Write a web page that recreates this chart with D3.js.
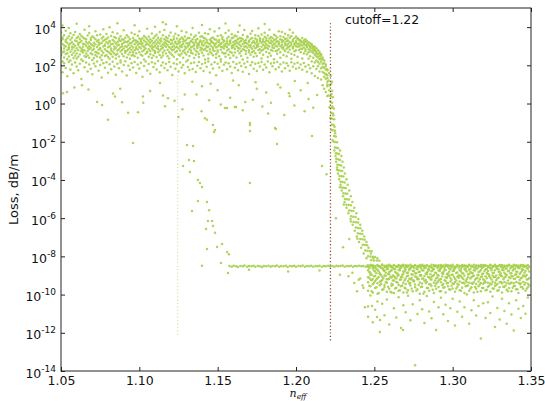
<!DOCTYPE html>
<html>
<head>
<meta charset="utf-8">
<script src="https://cdn.jsdelivr.net/npm/d3@7"></script>
<style>
  body { margin: 0; background: #fff; }
  svg { display: block; }
  text { font-family: "DejaVu Sans", sans-serif; fill: #111; }
</style>
</head>
<body>
<svg id="chart" width="545" height="401"></svg>
<script>
// ---- axis ticks ----
const xTicks = [1.05, 1.10, 1.15, 1.20, 1.25, 1.30, 1.35];
const yTickExponents = [-14, -12, -10, -8, -6, -4, -2, 0, 2, 4];

// ---- reference lines ----
const cutoffIndex = 1.222;
const cutoffSpan = [4e-13, 1.6e4];
const secondaryIndex = 1.1245;
const secondarySpan = [8e-13, 30];

// ---- high-loss modes: [n_eff, losses at that n_eff] ----
const lossyColumns = [
[1.050,[5200,820,1900,340,610,95]],[1.051,[2300,470,1300,2900,160,44,12000]],[1.052,[760,3800,260,1100,530,130]],
[1.053,[1700,390,980,2100,6400,72]],[1.054,[640,2600,1500,210,430,27]],[1.055,[3300,870,290,1200,710,150,9000]],
[1.056,[1400,520,2200,4700,180,61]],[1.057,[930,360,1600,680,2800,110]],[1.058,[450,1250,3900,240,850,38]],
[1.059,[2000,570,1050,320,5600,140]],[1.060,[790,2700,1800,410,230,88,15000]],[1.061,[1150,3100,620,280,1450,56]],
[1.062,[370,880,2400,4300,1600,120]],[1.063,[1900,540,740,200,3400,19]],[1.064,[660,1350,2900,470,950,170]],
[1.065,[2500,310,1250,7300,590,80]],[1.066,[1050,420,1700,2300,270,140]],[1.067,[560,3600,820,1400,330,47]],
[1.068,[1600,250,1000,4900,690,110,11000]],[1.069,[840,2100,430,1300,2700,66]],[1.070,[380,1150,3200,610,190,34]],
[1.071,[2900,720,1500,240,1000,125]],[1.072,[1250,500,2300,6100,350,90]],[1.073,[470,1800,910,290,3700,160]],
[1.074,[2100,650,1150,420,1550,52]],[1.075,[730,4100,260,1350,800,105]],[1.076,[1500,340,2600,560,190,23]],
[1.077,[960,1950,460,3100,7700,130]],[1.078,[310,1200,2200,700,1050,75]],[1.079,[2400,580,1600,350,4400,145]],
[1.080,[880,1400,270,2900,510,41]],[1.081,[1700,440,990,1900,220,115,9800]],[1.082,[600,3400,1250,380,760,62]],
[1.083,[1300,2100,520,5300,280,155]],[1.084,[420,980,1750,690,3000,88]],[1.085,[2700,350,1400,830,230,32]],
[1.086,[1100,4600,600,1600,400,120,16000]],[1.087,[700,2000,290,1200,2500,70]],[1.088,[1850,530,880,3300,180,140]],
[1.089,[390,1300,2300,640,1000,48]],[1.090,[2200,760,1500,300,6800,105]],[1.091,[1000,450,2800,1700,560,165]],
[1.092,[580,1600,940,3800,260,29]],[1.093,[3000,1150,370,700,1900,95]],[1.094,[820,2400,1450,480,220,58]],
[1.095,[1500,330,1050,5100,640,130]],[1.096,[490,2700,1800,860,360,78]],[1.097,[1250,620,2100,300,4200,150,12500]],
[1.098,[2000,900,430,1550,740,40]],[1.099,[670,3500,1200,250,1700,110]],[1.100,[1400,480,2500,920,6000,68]],
[1.101,[360,1750,780,1300,2200,135]],[1.102,[2600,1050,540,320,1450,25]],[1.103,[900,2000,3400,640,200,92]],
[1.104,[1650,400,1150,2900,760,160]],[1.105,[520,1350,2300,470,8200,54]],[1.106,[1200,3100,700,1800,280,118]],
[1.107,[2300,560,960,380,1500,36]],[1.108,[760,1900,4600,1100,240,145]],[1.109,[1450,330,2600,620,870,82]],
[1.110,[440,1050,1700,3300,540,125,10500]],[1.111,[2100,800,1300,270,4000,60]],[1.112,[1000,2800,490,1600,710,170]],
[1.113,[600,1400,2100,350,5600,44]],[1.114,[1800,720,1000,2500,260,98]],[1.115,[330,3700,1250,830,470,140,18000]],
[1.116,[1550,590,2300,7100,1100,72]],[1.117,[950,2000,420,1400,3000,120,14000]],[1.118,[2600,1150,660,300,1800,55]],
[1.119,[500,1650,3500,900,230,150]],[1.120,[1300,420,2200,5200,760,85]],[1.121,[2000,900,1450,350,620,31]],
[1.122,[680,3200,1100,2400,280,130]],[1.123,[1500,480,850,4500,1700,66]],[1.124,[920,2500,560,1250,210,115,11000]],
[1.125,[370,1400,3800,750,1900,48]],[1.126,[2300,1000,600,1600,330,140]],[1.127,[1150,2900,420,6300,880,76]],
[1.128,[560,1750,1300,250,2400,104]],[1.129,[1900,680,3200,980,450,38]],[1.130,[820,2200,1450,370,5400,160]],
[1.131,[1350,510,1000,2700,190,82]],[1.132,[2700,1200,700,310,1550,57]],[1.133,[450,1850,4100,880,600,128]],
[1.134,[1600,960,2300,420,9000,64]],[1.135,[740,3000,1350,240,1100,142]],[1.136,[2100,570,1650,3600,360,45]],
[1.137,[1000,2400,800,500,1300,96]],[1.138,[390,1500,5000,1150,270,150]],[1.139,[1750,860,2000,620,3100,70]],
[1.140,[1200,3300,450,1500,760,118,13000]],[1.141,[640,1900,1100,2800,330,50]],[1.142,[2500,720,1400,200,4700,135]],
[1.143,[890,1650,560,2100,1000,84]],[1.144,[1450,4300,950,380,230,160]],[1.145,[520,2200,1250,7800,700,42]],
[1.146,[1900,1000,430,1600,2600,112]],[1.147,[800,2900,1500,340,620,68]],[1.148,[1300,560,2300,5900,1050,146]],
[1.149,[2200,850,380,1400,250,30]],[1.150,[610,1750,3400,970,480,122]],[1.151,[1600,1150,2100,300,8600,77]],
[1.152,[930,3700,650,1300,210,158]],[1.153,[2400,470,1500,880,3000,52]],[1.154,[1100,2000,760,420,1800,108]],
[1.155,[430,1350,4900,1000,280,140,15500]],[1.156,[1800,920,2500,600,1400,63]],[1.157,[700,3100,1200,360,6600,130]],
[1.158,[1450,510,2000,1700,240,86]],[1.159,[2600,1050,800,4200,450,40]],[1.160,[880,1600,2900,330,1150,150]],
[1.161,[1250,470,1900,720,3600,74]],[1.162,[2000,3300,990,260,1500,118]],[1.163,[580,1400,2400,5500,820,55]],
[1.164,[1700,760,1200,430,2700,138,12000]],[1.165,[1000,2600,540,1850,310,92]],[1.166,[2300,1300,3900,700,200,46]],
[1.167,[660,1800,950,1450,7000,126]],[1.168,[1500,400,2100,1000,560,80]],[1.169,[820,2900,1350,3300,250,152]],
[1.170,[1950,620,1700,480,1100,35]],[1.171,[1150,4500,870,2400,360,102]],[1.172,[490,1500,2700,730,6200,144]],
[1.173,[1650,1000,560,1900,280,67]],[1.174,[2500,790,1400,3800,430,120]],[1.175,[900,2200,1150,310,1700,50]],
[1.176,[1350,3400,640,8800,1000,134]],[1.177,[2100,700,1800,450,2600,88]],[1.178,[580,1500,950,4100,230,148]],
[1.179,[1800,1200,2300,660,360,58]],[1.180,[1050,3100,780,1600,5000,112,14500]],[1.181,[2600,500,1300,2000,850,76]],
[1.182,[740,1900,3600,1100,270,160]],[1.183,[1500,960,2500,430,7300,44]],[1.184,[2000,640,1450,3000,320,124]],
[1.185,[860,2700,1100,570,1700,90]],[1.186,[1300,4000,800,2100,210,138]],[1.187,[2300,1050,560,1550,3500,62]],
[1.188,[600,1800,2900,980,400,150]],[1.189,[1700,1250,700,6000,1350,80]],[1.190,[1000,2300,3300,480,250,114]],
[1.191,[2100,820,1600,1150,5600,48]],[1.192,[700,3000,1900,350,900,142]],[1.193,[1450,560,2400,4500,1200,70]],
[1.194,[2500,1100,740,300,1800,128]],[1.195,[880,2000,3700,1300,480,96]],[1.196,[1600,650,2800,1000,7200,52]],
[1.197,[1150,3300,1500,400,220,146]],[1.198,[2200,760,1900,5100,920,84]],[1.199,[540,1400,2600,1200,350,120]],
[1.200,[1800,1000,3200,620,1500,66]],[1.201,[950,2400,1300,2600,280,138]],[1.202,[1400,640,2100,1000,2200,74]],
[1.203,[2000,1200,480,1700,760,110]],[1.204,[720,1600,2700,1100,230,58]],[1.205,[1300,2000,860,1500,420,132]],
[1.206,[1700,540,1150,2300,700,86]],[1.207,[900,1350,1900,380,1000,46]],[1.208,[1200,700,1600,480,220,104]],
[1.209,[600,1000,1450,860,300,70]],[1.210,[1100,1300,520,760,160,38]],[1.211,[820,440,1000,620,250,90]],
[1.212,[700,950,360,560,140,28]],[1.213,[520,780,300,430,180,64]],[1.214,[620,380,260,150,90,22]],
[1.215,[430,300,520,210,120,48]],[1.216,[330,230,160,380,70,18]],[1.217,[260,120,200,85,45,9]],
[1.218,[180,75,130,40,25,6]],[1.219,[110,60,35,90,20,4]],[1.220,[55,30,22,14,8,2.5]]
];

// ---- isolated lossy points below the main band: [n_eff, loss] ----
const lossyStrays = [
[1.0513,3.5],[1.0538,4],[1.0585,7],[1.0634,9],[1.0675,5.5],[1.073,1.2],[1.0762,0.83],[1.080,0.14],
[1.0832,3.3],[1.0845,2.3],[1.0878,6],[1.089,1.15],[1.0928,0.33],[1.096,0.0087],[1.0991,0.35],[1.1023,2.3],
[1.1025,1.1],[1.1069,4.5],[1.1132,12],[1.1151,2.6],[1.1164,0.72],[1.1183,1.9],
[1.1225,1.4],[1.125,0.2],[1.1275,0.5],[1.129,3],[1.1365,3],[1.140,8],[1.1419,0.17],[1.1432,0.14],
[1.1445,1.5],[1.147,0.076],[1.1477,0.032],[1.1483,0.041],[1.150,5],[1.152,0.9],[1.1547,0.59],[1.156,0.59],
[1.158,2],[1.161,0.66],[1.1617,0.66],[1.1635,9],[1.166,0.45],[1.1706,0.095],[1.1706,0.076],[1.1706,0.036],
[1.1725,1.6],[1.175,6],[1.1785,0.7],[1.181,3.8],[1.184,1.1],[1.1866,0.052],[1.1872,0.047],[1.1879,0.0076],
[1.19,7],[1.1925,0.25],[1.196,2.4],[1.199,0.8],[1.203,5],[1.2055,0.4],[1.208,1.7],[1.2102,0.02],
[1.211,0.6],[1.2135,2.8],[1.2166,0.00054],[1.1338,14],[1.1455,11],[1.1598,16],[1.1742,13],[1.1884,10],
[1.1993,15],[1.2075,12],[1.1397,0.4],[1.1676,1.2],[1.1822,0.3],[1.1955,3.4]
];

// ---- secondary mode falling towards the plateau ----
const fallingBranch = [
[1.1304,0.0068],[1.1343,0.006],[1.1317,0.0011],[1.1349,0.00098],[1.1279,0.00054],[1.1323,0.00026],
[1.1374,1e-4],[1.1387,6.9e-5],[1.140,4.3e-5],[1.1374,7.9e-6],[1.1432,7e-6],[1.1336,2.4e-6],
[1.1445,2.6e-6],[1.1438,7e-7],[1.1464,7e-7],[1.1426,2.7e-7],[1.147,3.9e-7],[1.1483,1.7e-7],
[1.1528,4.5e-8],[1.1496,3.1e-8],[1.1432,2.4e-8],[1.156,1.7e-8],[1.1572,1.3e-8],[1.140,3.2e-9],
[1.1521,4.5e-9],[1.1566,1.35e-9],[1.1706,6.9e-5]
];

// ---- core modes crossing the cutoff ----
const transition = [
[1.2200,63],[1.2212,40],[1.2195,32],[1.2221,28],[1.2208,16],[1.2229,14],[1.2201,10],[1.2216,9],[1.2224,11],
[1.2213,5],[1.2231,4.6],[1.2207,2.6],[1.2222,2.4],[1.2235,2.1],[1.2218,1.3],[1.2230,1.1],
[1.2214,0.63],[1.2228,0.6],[1.2241,0.55],[1.2225,0.32],[1.2236,0.3],[1.2231,0.16],[1.2244,0.15],[1.2219,0.18],
[1.2228,0.08],[1.2240,0.075],[1.2236,0.04],[1.2249,0.038],[1.2226,0.042],[1.2243,0.02],[1.2254,0.019],
[1.2240,0.01],[1.2251,0.0098],[1.2262,0.0093],[1.2248,0.005],[1.2258,0.0048],[1.2268,0.0046],
[1.2254,0.0025],[1.2264,0.0024],[1.2275,0.0023],[1.2257,0.0013],[1.2269,0.0012],[1.2281,0.0011],
[1.2264,6.3e-4],[1.2276,6e-4],[1.2288,5.7e-4],[1.2270,3.2e-4],[1.2283,3e-4],[1.2295,2.9e-4],[1.2262,3.4e-4],
[1.2278,1.6e-4],[1.2290,1.55e-4],[1.2302,1.5e-4],[1.2285,8e-5],[1.2297,7.7e-5],[1.2310,7.4e-5],
[1.2293,4e-5],[1.2306,3.9e-5],[1.2318,3.8e-5],[1.2280,4.2e-5],[1.2302,2e-5],[1.2315,1.95e-5],[1.2327,1.9e-5],
[1.2312,1e-5],[1.2325,9.8e-6],[1.2338,9.5e-6],[1.2322,5e-6],[1.2336,4.9e-6],[1.2350,4.8e-6],[1.2305,5.2e-6],
[1.2338,2.5e-6],[1.2352,2.45e-6],[1.2366,2.4e-6],[1.2352,1.25e-6],[1.2366,1.2e-6],[1.2380,1.15e-6],
[1.2368,6.3e-7],[1.2382,6.1e-7],[1.2396,5.9e-7],[1.2350,6.6e-7],[1.2382,3.2e-7],[1.2396,3.1e-7],[1.2410,3e-7],
[1.2395,1.6e-7],[1.2409,1.55e-7],[1.2423,1.5e-7],[1.2410,8e-8],[1.2424,7.8e-8],[1.2438,7.5e-8],[1.2392,8.3e-8],
[1.2426,4e-8],[1.2440,3.9e-8],[1.2454,3.8e-8],[1.2442,2e-8],[1.2456,1.95e-8],[1.2470,1.9e-8],[1.2483,1.85e-8],
[1.2460,1e-8],[1.2475,9.8e-9],[1.2490,9.5e-9],[1.2505,9.2e-9],[1.2480,6.3e-9],[1.2498,6.1e-9],[1.2516,6e-9],[1.2532,5.9e-9],
[1.2195,2e-4],[1.2255,1e-6],[1.2300,3e-8],[1.2340,8e-8],
[1.2245,0.0035],[1.2282,0.0035],[1.2252,0.0018],[1.2290,0.0018],[1.2256,8.9e-4],[1.2297,8.9e-4],
[1.2262,4.5e-4],[1.2305,4.5e-4],[1.2268,2.2e-4],[1.2312,2.2e-4],[1.2275,1.1e-4],[1.2322,1.1e-4],
[1.2284,5.6e-5],[1.2330,5.6e-5],[1.2292,2.8e-5],[1.2340,2.8e-5],[1.2300,1.4e-5],[1.2350,1.4e-5],
[1.2310,7e-6],[1.2360,7e-6],[1.2322,3.5e-6],[1.2372,3.5e-6],[1.2334,1.8e-6],[1.2385,1.8e-6],
[1.2348,8.9e-7],[1.2398,8.9e-7],[1.2362,4.5e-7],[1.2410,4.5e-7],[1.2375,2.2e-7],[1.2423,2.2e-7],
[1.2388,1.1e-7],[1.2436,1.1e-7],[1.2402,5.6e-8],[1.2450,5.6e-8],[1.2416,2.8e-8],[1.2463,2.8e-8],
[1.2432,1.4e-8],[1.2478,1.4e-8],[1.2450,7.9e-9],[1.2492,7.9e-9],[1.2520,7.9e-9],
[1.2233,0.7],[1.2226,3.2],[1.2238,0.24],[1.2246,0.06],[1.2250,0.028],[1.2234,0.012]
];

// ---- plateau of leaky modes before the cutoff region ----
const plateau = [
[1.1575,3.1e-9],[1.1590,2.9e-9],[1.1602,3.2e-9],[1.1618,3e-9],[1.1630,2.8e-9],[1.1645,3.1e-9],[1.1660,3e-9],
[1.1671,3.3e-9],[1.1688,2.9e-9],[1.1700,3.1e-9],[1.1715,3e-9],[1.1728,3.2e-9],[1.1740,2.9e-9],[1.1756,3.1e-9],
[1.1770,3e-9],[1.1783,2.8e-9],[1.1795,3.1e-9],[1.1810,3e-9],[1.1825,3.2e-9],[1.1838,2.9e-9],[1.1850,3.1e-9],
[1.1866,3e-9],[1.1878,3.3e-9],[1.1893,2.9e-9],[1.1905,3.1e-9],[1.1920,3e-9],[1.1934,3.2e-9],[1.1946,2.8e-9],
[1.1960,3.1e-9],[1.1975,3e-9],[1.1988,3.2e-9],[1.2000,2.9e-9],[1.2015,3.1e-9],[1.2030,3e-9],[1.2042,3.3e-9],
[1.2056,2.9e-9],[1.2070,3.1e-9],[1.2084,3e-9],[1.2097,3.2e-9],[1.2110,2.9e-9],[1.2125,3.1e-9],[1.2138,3e-9],
[1.2150,3.2e-9],[1.2165,2.9e-9],[1.2178,3.1e-9],[1.2190,3e-9],[1.2205,3.2e-9],[1.2218,3e-9],[1.2232,3.1e-9],
[1.2245,2.9e-9],[1.2258,3.2e-9],[1.2270,3e-9],[1.2284,3.1e-9],[1.2298,3.3e-9],[1.2310,2.9e-9],[1.2324,3.1e-9],
[1.2337,3e-9],[1.2350,3.2e-9],[1.2364,2.9e-9],[1.2377,3.1e-9],[1.2390,3e-9],[1.2404,3.2e-9],[1.2418,3e-9],
[1.2430,3.1e-9],[1.2444,2.9e-9],[1.2455,3.2e-9],
[1.1700,2e-9],[1.1950,1.6e-9],[1.2150,1.8e-9],[1.2280,1.1e-9],[1.2360,1.4e-9],[1.2335,9e-10],[1.2372,4e-10],
[1.2390,1.5e-10],[1.2410,7e-10],[1.2425,3e-10],[1.2400,6e-10],[1.2430,2.2e-10],[1.2440,2.2e-11],[1.2485,2.5e-11],
[1.2517,6.8e-12],[1.2536,4.7e-12],[1.2683,1.4e-12]
];

// ---- low-loss guided modes above the cutoff ----
const guidedColumns = [
[1.2460,[3.3e-9,2.8e-9,1.9e-9,8e-10,4.4e-10,1.6e-10,2.4e-11,7e-12]],[1.2475,[3.6e-9,3.0e-9,1.4e-9,1.1e-9,6.2e-10,2.7e-10,9e-11]],
[1.2490,[2.9e-9,3.4e-9,2.3e-9,6.6e-10,3.5e-10,1.3e-10,3.6e-12]],[1.2505,[3.1e-9,2.7e-9,1.6e-9,9.4e-10,5.1e-10,2.2e-10,1.6e-11]],
[1.2520,[3.5e-9,3.2e-9,2.0e-9,7.2e-10,3.9e-10,1.1e-10,4.4e-11]],[1.2535,[3.0e-9,2.8e-9,1.3e-9,1.2e-9,4.7e-10,3.1e-10,1.1e-12]],
[1.2550,[3.4e-9,3.7e-9,2.4e-9,8.5e-10,5.8e-10,1.8e-10,3.3e-11]],[1.2565,[3.2e-9,2.9e-9,1.7e-9,1.0e-9,3.3e-10,2.5e-10,8.2e-12]],
[1.2580,[2.8e-9,3.3e-9,2.1e-9,6.3e-10,4.1e-10,1.4e-10,5.5e-11]],[1.2595,[3.6e-9,3.1e-9,1.5e-9,1.15e-9,6.7e-10,2.0e-10,2.7e-12]],
[1.2610,[3.1e-9,2.7e-9,1.85e-9,7.8e-10,3.7e-10,2.9e-10,1.3e-10]],[1.2625,[3.3e-9,3.5e-9,2.2e-9,9.1e-10,5.4e-10,1.2e-10,1.9e-11]],
[1.2640,[2.9e-9,3.0e-9,1.35e-9,6.9e-10,4.5e-10,2.3e-10,6.4e-12]],[1.2655,[3.5e-9,3.2e-9,1.95e-9,1.05e-9,3.2e-10,1.6e-10,7.3e-11]],
[1.2670,[3.2e-9,2.8e-9,2.5e-9,8.2e-10,6.1e-10,2.7e-10,1.8e-12]],[1.2685,[3.0e-9,3.6e-9,1.6e-9,1.2e-9,4.2e-10,1.3e-10,2.8e-11]],
[1.2700,[3.4e-9,2.9e-9,2.0e-9,7.0e-10,3.6e-10,2.1e-10,1.2e-11]],[1.2715,[3.1e-9,3.3e-9,1.45e-9,9.7e-10,5.0e-10,1.7e-10,8.8e-11]],
[1.2730,[3.6e-9,2.7e-9,2.3e-9,6.4e-10,4.0e-10,3.0e-10,4.6e-12]],[1.2745,[2.9e-9,3.1e-9,1.75e-9,1.1e-9,5.7e-10,1.5e-10,3.1e-11]],
[1.2760,[3.3e-9,3.4e-9,1.3e-9,8.8e-10,3.4e-10,2.4e-10,2e-14]],[1.2775,[3.1e-9,2.8e-9,2.1e-9,7.4e-10,6.4e-10,1.9e-10,9.5e-12]],
[1.2790,[3.5e-9,3.0e-9,1.55e-9,1.0e-9,4.3e-10,1.1e-10,5.1e-11]],[1.2805,[3.0e-9,3.6e-9,1.9e-9,6.7e-10,3.8e-10,2.6e-10,1.7e-11]],
[1.2820,[3.2e-9,2.9e-9,2.4e-9,9.3e-10,5.3e-10,1.4e-10,3.3e-12]],[1.2835,[3.4e-9,3.3e-9,1.4e-9,1.15e-9,4.6e-10,2.2e-10,8.4e-11]],
[1.2850,[2.8e-9,3.1e-9,2.0e-9,7.9e-10,3.5e-10,1.6e-10,1.3e-11]],[1.2865,[3.6e-9,2.7e-9,1.65e-9,8.6e-10,5.9e-10,2.8e-10,5.8e-12]],
[1.2880,[3.1e-9,3.5e-9,2.2e-9,1.05e-9,4.1e-10,1.2e-10,4.1e-11]],[1.2895,[3.3e-9,3.0e-9,1.35e-9,7.1e-10,3.7e-10,2.0e-10,1.4e-12]],
[1.2910,[2.9e-9,3.4e-9,1.8e-9,9.9e-10,5.5e-10,2.5e-10,2.2e-11]],[1.2925,[3.5e-9,2.8e-9,2.3e-9,6.5e-10,4.4e-10,1.5e-10,6.8e-11]],
[1.2940,[3.2e-9,3.2e-9,1.5e-9,1.2e-9,3.6e-10,2.3e-10,9.3e-12]],[1.2955,[3.0e-9,3.6e-9,1.95e-9,8.0e-10,5.2e-10,1.3e-10,2.9e-11]],
[1.2970,[3.4e-9,2.9e-9,1.25e-9,9.4e-10,4.0e-10,2.7e-10,4.2e-12]],[1.2985,[3.1e-9,3.3e-9,2.1e-9,7.3e-10,4.8e-10,1.8e-10,1.9e-11]],
[1.3000,[3.6e-9,3.0e-9,1.7e-9,1.1e-9,3.9e-10,2.1e-10,6.1e-11]],[1.3015,[2.9e-9,2.7e-9,2.4e-9,6.8e-10,4.5e-10,1.4e-10,2.4e-12]],
[1.3030,[3.3e-9,3.5e-9,1.45e-9,8.7e-10,3.7e-10,2.6e-10,1.25e-11]],[1.3045,[3.1e-9,3.1e-9,1.9e-9,1.0e-9,4.9e-10,1.7e-10,4.4e-11]],
[1.3060,[3.5e-9,2.8e-9,1.3e-9,7.6e-10,4.2e-10,2.3e-10,7e-12]],[1.3075,[3.0e-9,3.4e-9,2.2e-9,9.6e-10,3.8e-10,1.2e-10,2.2e-11]],
[1.3090,[3.2e-9,3.0e-9,1.6e-9,6.6e-10,4.6e-10,2.9e-10,1e-10]],[1.3105,[3.4e-9,3.6e-9,2.0e-9,1.15e-9,4.1e-10,1.6e-10,3e-12]],
[1.3120,[2.9e-9,3.2e-9,1.4e-9,8.1e-10,3.9e-10,2.4e-10,1.5e-11]],[1.3135,[3.6e-9,2.7e-9,1.85e-9,9.8e-10,4.4e-10,1.3e-10,5e-11]],
[1.3150,[3.1e-9,3.3e-9,2.3e-9,7.0e-10,3.6e-10,2.0e-10,8e-12]],[1.3165,[3.3e-9,3.0e-9,1.5e-9,1.05e-9,4.8e-10,2.7e-10,2.5e-11]],
[1.3180,[3.0e-9,3.5e-9,1.95e-9,8.4e-10,4.0e-10,1.5e-10,5e-13]],[1.3195,[3.5e-9,2.9e-9,1.25e-9,6.3e-10,3.7e-10,2.2e-10,3.5e-11]],
[1.3210,[3.2e-9,3.4e-9,2.1e-9,9.2e-10,4.5e-10,1.7e-10,6e-12]],[1.3225,[2.8e-9,3.1e-9,1.7e-9,1.2e-9,4.2e-10,2.6e-10,4e-11]],
[1.3240,[3.4e-9,3.6e-9,2.4e-9,7.7e-10,3.8e-10,1.4e-10,1.1e-11]],[1.3255,[3.1e-9,2.8e-9,1.35e-9,1.0e-9,4.7e-10,2.1e-10,8e-11]],
[1.3270,[3.6e-9,3.2e-9,1.9e-9,8.3e-10,4.1e-10,2.9e-10,2e-12]],[1.3285,[3.0e-9,3.0e-9,2.2e-9,6.9e-10,3.6e-10,1.6e-10,2e-11]],
[1.3300,[3.3e-9,3.5e-9,1.55e-9,1.1e-9,4.4e-10,2.4e-10,5e-12]],[1.3315,[3.5e-9,2.7e-9,2.0e-9,9.0e-10,3.9e-10,1.3e-10,6e-11]],
[1.3330,[2.9e-9,3.3e-9,1.4e-9,7.5e-10,4.6e-10,2.5e-10,1.4e-11]],[1.3345,[3.2e-9,3.0e-9,2.3e-9,1.05e-9,4.0e-10,1.8e-10,3e-12]],
[1.3360,[3.4e-9,3.6e-9,1.75e-9,8.0e-10,3.7e-10,2.2e-10,3.5e-11]],[1.3375,[3.1e-9,2.9e-9,1.3e-9,9.5e-10,4.3e-10,1.5e-10,9e-12]],
[1.3390,[3.6e-9,3.2e-9,2.1e-9,6.7e-10,3.9e-10,2.8e-10,1.3e-12]],[1.3405,[3.0e-9,3.4e-9,1.6e-9,1.15e-9,4.5e-10,1.9e-10,5e-11]],
[1.3420,[3.3e-9,2.8e-9,2.4e-9,8.6e-10,4.2e-10,1.2e-10,1.8e-11]],[1.3435,[3.5e-9,3.1e-9,1.45e-9,7.2e-10,3.8e-10,2.6e-10,6e-12]],
[1.3450,[2.9e-9,3.5e-9,2.0e-9,1.0e-9,4.6e-10,2.0e-10,2.5e-11]],[1.3465,[3.2e-9,3.0e-9,1.7e-9,8.9e-10,4.1e-10,1.6e-10,1e-11]],
[1.3480,[3.4e-9,3.3e-9,2.2e-9,6.4e-10,3.7e-10,2.4e-10,7e-11]]
];

// ---- further guided modes between the columns above ----
const guidedInterleaved = [
[1.2468,[2.4e-9,1.5e-9,7.5e-10,2.9e-10]],[1.2483,[3.2e-9,1.1e-9,5.6e-10,1.5e-10]],[1.2498,[2.6e-9,1.8e-9,9.2e-10,4.1e-10]],
[1.2513,[2.2e-9,1.3e-9,6.1e-10,2.4e-10]],[1.2528,[3.0e-9,1.65e-9,8.3e-10,1.2e-10]],[1.2543,[2.5e-9,1.05e-9,5.2e-10,3.6e-10]],
[1.2558,[2.1e-9,1.9e-9,7.1e-10,1.9e-10]],[1.2573,[2.8e-9,1.4e-9,9.7e-10,4.6e-10]],[1.2588,[2.35e-9,1.2e-9,6.4e-10,2.6e-10]],
[1.2603,[3.1e-9,1.7e-9,8.7e-10,1.4e-10]],[1.2618,[2.55e-9,1.0e-9,5.5e-10,3.3e-10]],[1.2633,[2.2e-9,1.55e-9,7.7e-10,2.1e-10]],
[1.2648,[2.9e-9,1.25e-9,9.3e-10,4.3e-10]],[1.2663,[2.45e-9,1.85e-9,6.0e-10,1.7e-10]],[1.2678,[3.3e-9,1.1e-9,8.0e-10,3.0e-10]],
[1.2693,[2.3e-9,1.6e-9,5.7e-10,2.3e-10]],[1.2708,[2.7e-9,1.35e-9,9.0e-10,1.3e-10]],[1.2723,[2.15e-9,1.95e-9,6.7e-10,3.8e-10]],
[1.2738,[3.0e-9,1.15e-9,7.4e-10,2.0e-10]],[1.2753,[2.5e-9,1.7e-9,5.3e-10,4.8e-10]],[1.2768,[2.25e-9,1.3e-9,8.5e-10,1.6e-10]],
[1.2783,[2.85e-9,1.5e-9,6.3e-10,3.2e-10]],[1.2798,[2.4e-9,1.05e-9,9.6e-10,2.5e-10]],[1.2813,[3.15e-9,1.8e-9,7.0e-10,1.1e-10]],
[1.2828,[2.6e-9,1.25e-9,5.8e-10,4.0e-10]],[1.2843,[2.1e-9,1.6e-9,8.2e-10,2.2e-10]],[1.2858,[2.75e-9,1.15e-9,6.5e-10,3.5e-10]],
[1.2873,[2.35e-9,1.9e-9,9.4e-10,1.8e-10]],[1.2888,[3.05e-9,1.4e-9,5.4e-10,2.8e-10]],[1.2903,[2.55e-9,1.05e-9,7.8e-10,4.4e-10]],
[1.2918,[2.2e-9,1.7e-9,6.2e-10,1.5e-10]],[1.2933,[2.9e-9,1.3e-9,8.8e-10,3.1e-10]],[1.2948,[2.45e-9,1.85e-9,5.6e-10,2.4e-10]],
[1.2963,[3.2e-9,1.2e-9,7.3e-10,3.9e-10]],[1.2978,[2.3e-9,1.55e-9,9.9e-10,1.9e-10]],[1.2993,[2.65e-9,1.1e-9,6.0e-10,2.9e-10]],
[1.3008,[2.15e-9,1.75e-9,8.4e-10,3.6e-10]],[1.3023,[2.95e-9,1.35e-9,5.5e-10,2.1e-10]],[1.3038,[2.5e-9,1.0e-9,7.6e-10,3.3e-10]],
[1.3053,[2.25e-9,1.65e-9,9.1e-10,1.6e-10]],[1.3068,[3.1e-9,1.25e-9,6.6e-10,4.2e-10]],[1.3083,[2.4e-9,1.9e-9,5.3e-10,2.7e-10]],
[1.3098,[2.8e-9,1.15e-9,8.1e-10,3.0e-10]],[1.3113,[2.2e-9,1.5e-9,6.9e-10,2.0e-10]],[1.3128,[3.0e-9,1.3e-9,9.5e-10,3.7e-10]],
[1.3143,[2.55e-9,1.8e-9,5.9e-10,2.5e-10]],[1.3158,[2.3e-9,1.05e-9,7.5e-10,1.4e-10]],[1.3173,[2.85e-9,1.6e-9,6.3e-10,3.4e-10]],
[1.3188,[2.45e-9,1.2e-9,8.9e-10,2.2e-10]],[1.3203,[3.15e-9,1.7e-9,5.4e-10,4.1e-10]],[1.3218,[2.15e-9,1.35e-9,7.1e-10,1.8e-10]],
[1.3233,[2.7e-9,1.1e-9,9.2e-10,2.9e-10]],[1.3248,[2.35e-9,1.85e-9,6.1e-10,3.5e-10]],[1.3263,[3.05e-9,1.4e-9,8.0e-10,2.1e-10]],
[1.3278,[2.6e-9,1.0e-9,5.7e-10,3.2e-10]],[1.3293,[2.2e-9,1.55e-9,7.7e-10,1.7e-10]],[1.3308,[2.9e-9,1.25e-9,9.7e-10,4.5e-10]],
[1.3323,[2.5e-9,1.9e-9,6.4e-10,2.6e-10]],[1.3338,[2.25e-9,1.15e-9,8.6e-10,3.0e-10]],[1.3353,[3.2e-9,1.65e-9,5.5e-10,1.5e-10]],
[1.3368,[2.4e-9,1.3e-9,7.2e-10,3.8e-10]],[1.3383,[2.75e-9,1.8e-9,9.0e-10,2.3e-10]],[1.3398,[2.3e-9,1.1e-9,6.7e-10,2.8e-10]],
[1.3413,[3.0e-9,1.5e-9,8.3e-10,1.9e-10]],[1.3428,[2.55e-9,1.2e-9,5.8e-10,3.6e-10]],[1.3443,[2.1e-9,1.75e-9,7.9e-10,2.4e-10]],
[1.3458,[2.95e-9,1.35e-9,9.4e-10,3.3e-10]],[1.3473,[2.45e-9,1.05e-9,6.2e-10,2.0e-10]],[1.3488,[2.8e-9,1.6e-9,7.4e-10,3.1e-10]]
];

// ---- layout ----
const W = 545, H = 401;
const m = { left: 61, right: 14, top: 8, bottom: 30 };
const x = d3.scaleLinear().domain([1.05, 1.35]).range([m.left, W - m.right]);
const y = d3.scaleLog().domain([1e-14, 1e5]).range([H - m.bottom, m.top]);

const svg = d3.select("#chart");
svg.append("defs").append("clipPath").attr("id", "plotArea")
  .append("rect")
  .attr("x", m.left).attr("y", m.top)
  .attr("width", W - m.left - m.right).attr("height", H - m.top - m.bottom);

// flatten all modes into [n_eff, loss] points
const points = [];
[lossyColumns, guidedColumns, guidedInterleaved].forEach(cols =>
  cols.forEach(([n, ls]) => ls.forEach(l => points.push([n, l]))));
[lossyStrays, fallingBranch, transition, plateau].forEach(arr => arr.forEach(p => points.push(p)));

const plot = svg.append("g").attr("clip-path", "url(#plotArea)");

// faint secondary marker
plot.append("line")
  .attr("x1", x(secondaryIndex)).attr("x2", x(secondaryIndex))
  .attr("y1", y(secondarySpan[0])).attr("y2", y(secondarySpan[1]))
  .attr("stroke", "#c9dc98").attr("stroke-width", 1.1)
  .attr("stroke-dasharray", "1,2.4");

plot.append("g").selectAll("circle").data(points).join("circle")
  .attr("cx", d => x(d[0]))
  .attr("cy", d => y(d[1]))
  .attr("r", 1.25)
  .attr("fill", "#a6cf4a")
  .attr("fill-opacity", 0.9);

// cutoff marker
plot.append("line")
  .attr("x1", x(cutoffIndex)).attr("x2", x(cutoffIndex))
  .attr("y1", y(cutoffSpan[0])).attr("y2", y(cutoffSpan[1]))
  .attr("stroke", "#8a4b2a").attr("stroke-width", 1.3)
  .attr("stroke-dasharray", "1.2,2.2");

svg.append("text")
  .attr("x", 345).attr("y", 24)
  .attr("font-size", 12.5)
  .text("cutoff=" + cutoffIndex.toFixed(2));

// ---- axes (ticks pointing inward on all four sides) ----
const axisColor = "#222";
function styleAxis(g) {
  g.select(".domain").remove();
  g.selectAll(".tick line").attr("stroke", axisColor);
}
const yTicks = yTickExponents.map(e => Math.pow(10, e));

svg.append("g").attr("transform", `translate(0,${H - m.bottom})`)
  .call(d3.axisBottom(x).tickValues(xTicks).tickSize(-4).tickPadding(5).tickFormat(d3.format(".2f")))
  .call(styleAxis)
  .call(g => g.selectAll("text").attr("font-size", 12.5).attr("fill", "#111")
    .attr("font-family", "DejaVu Sans, sans-serif"));

svg.append("g").attr("transform", `translate(0,${m.top})`)
  .call(d3.axisTop(x).tickValues(xTicks).tickSize(-4).tickFormat(""))
  .call(styleAxis);

svg.append("g").attr("transform", `translate(${m.left},0)`)
  .call(d3.axisLeft(y).tickValues(yTicks).tickSize(-4).tickFormat(""))
  .call(styleAxis);

svg.append("g").attr("transform", `translate(${W - m.right},0)`)
  .call(d3.axisRight(y).tickValues(yTicks).tickSize(-4).tickFormat(""))
  .call(styleAxis);

// power-of-ten tick labels
const yl = svg.append("g");
yTickExponents.forEach(e => {
  const t = yl.append("text")
    .attr("x", 56).attr("y", y(Math.pow(10, e)) + 6.5)
    .attr("text-anchor", "end")
    .attr("font-size", 12.5);
  t.append("tspan").text("10");
  t.append("tspan").attr("dy", -6).attr("font-size", 9).text(String(e));
});

// frame
svg.append("rect")
  .attr("x", m.left).attr("y", m.top)
  .attr("width", W - m.left - m.right).attr("height", H - m.top - m.bottom)
  .attr("fill", "none").attr("stroke", axisColor).attr("stroke-width", 1);

// axis titles
svg.append("text")
  .attr("transform", `translate(18,${(m.top + H - m.bottom) / 2}) rotate(-90)`)
  .attr("text-anchor", "middle")
  .attr("font-size", 13)
  .text("Loss, dB/m");

const xl = svg.append("text")
  .attr("x", (m.left + W - m.right) / 2 + 2).attr("y", 397)
  .attr("text-anchor", "middle")
  .style("font-family", "DejaVu Serif, serif")
  .attr("font-size", 11);
xl.append("tspan").attr("font-style", "italic").text("n");
xl.append("tspan").attr("dy", 2).attr("font-size", 7.5).attr("font-style", "italic").text("eff");
</script>
</body>
</html>
